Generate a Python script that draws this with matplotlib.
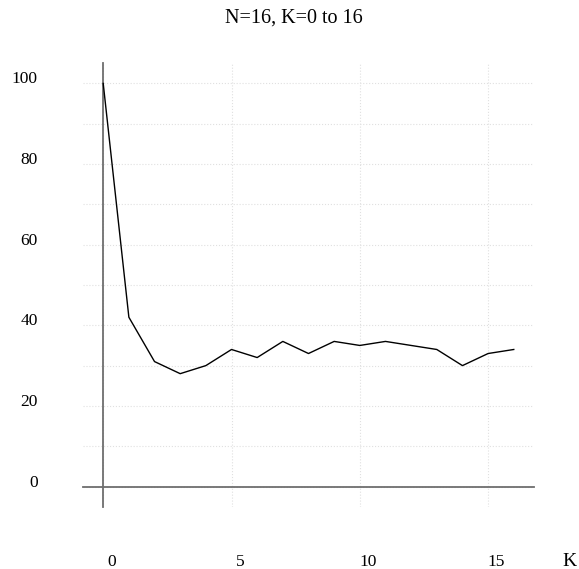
import matplotlib
matplotlib.use('Agg')
import matplotlib.pyplot as plt

# dados
k_vals = list(range(0, 17))
valores = [100, 42, 31, 28, 30, 34, 32, 36, 33, 36, 35, 36, 35, 34, 30, 33, 34]
x_ticks = [0, 5, 10, 15]
y_ticks = [0, 20, 40, 60, 80, 100]

plt.rcParams['font.family'] = ['Liberation Serif', 'DejaVu Serif']

fig = plt.figure(figsize=(5.79, 5.69), dpi=100)
ax = fig.add_axes([0.1428, 0.1095, 0.78, 0.7793])
ax.set_xlim(-0.8, 16.8)
ax.set_ylim(-5, 105)

# grelha pontilhada
ax.set_xticks(x_ticks)
ax.set_yticks(range(0, 101, 10))
ax.grid(True, linestyle=':', color='#e0e0e0', linewidth=0.8)
ax.tick_params(length=0, labelbottom=False, labelleft=False)

# eixos a passar pelo zero
for lado in ['top', 'right']:
    ax.spines[lado].set_visible(False)
ax.spines['left'].set_position(('data', 0))
ax.spines['bottom'].set_position(('data', 0))
for lado in ['left', 'bottom']:
    ax.spines[lado].set_color('#6e6e6e')
    ax.spines[lado].set_linewidth(1.3)

ax.plot(k_vals, valores, color='black', linewidth=1.0, zorder=3)

# rótulos
for y in y_ticks:
    ax.text(-2.55, y, str(y), ha='right', va='baseline', fontsize=12.5, clip_on=False)
for x in x_ticks:
    ax.text(x + 0.33, -18.6, str(x), ha='center', va='center', fontsize=12.5, clip_on=False)
ax.text(18.18, -18.6, 'K', ha='center', va='center', fontsize=14, clip_on=False)

fig.text(0.508, 1 - 18 / 569, 'N=16, K=0 to 16', ha='center', va='center', fontsize=14.5)

plt.savefig('out.png', dpi=100)
plt.close()
